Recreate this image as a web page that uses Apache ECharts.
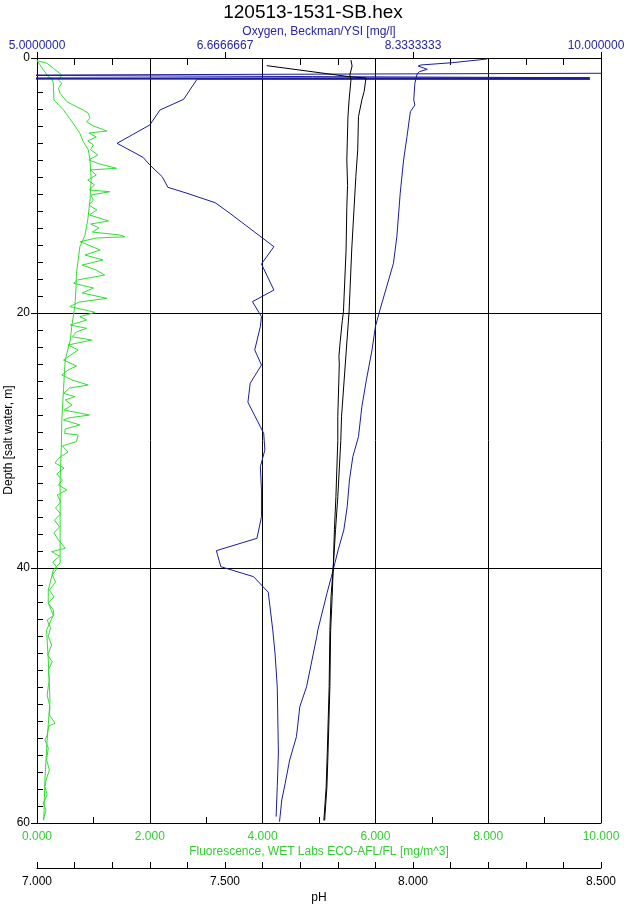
<!DOCTYPE html>
<html><head><meta charset="utf-8">
<script src="https://cdn.jsdelivr.net/npm/echarts@6/dist/echarts.min.js"></script>
<style>html,body{margin:0;padding:0;background:#fff}#c{width:626px;height:905px}</style>
</head><body><div id="c"></div>
<script>
const titleText = '120513-1531-SB.hex';
const depthName = 'Depth [salt water, m]';
const oxygenName = 'Oxygen, Beckman/YSI [mg/l]';
const depthTickLabels = ['0', '20', '40', '60'];
const fluorTickLabels = ['0.000', '2.000', '4.000', '6.000', '8.000', '10.000'];
const oxygenTickLabels = ['5.0000000', '6.6666667', '8.3333333', '10.000000'];
const phTickLabels = ['7.000', '7.500', '8.000', '8.500'];

// each point: [value, depth m]
const fluorDown = [[0.00,0.21],[0.18,0.42],[0.29,0.81],[0.44,1.33],[0.38,1.73],[0.44,1.98],[0.38,2.38],[0.41,2.77],[0.53,3.43],[0.64,3.69],[0.82,4.08],[0.91,4.34],[0.94,4.73],[0.88,5.0],[1.00,5.33],[1.24,5.73],[0.92,5.88],[1.05,6.2],[0.90,6.5],[1.00,6.82],[0.95,7.2],[1.08,7.6],[0.92,8.0],[1.10,8.3],[1.41,8.65],[0.95,8.78],[1.05,9.18],[0.90,9.57],[1.02,9.96],[0.93,10.35],[1.29,10.49],[0.95,10.75],[1.00,11.14],[0.92,11.53],[1.06,11.92],[0.93,12.31],[1.27,12.78],[0.95,13.02],[1.10,13.33],[0.98,13.65],[1.47,13.88],[1.56,14.02],[1.05,14.12],[0.76,14.41],[0.82,14.5],[1.12,15.06],[0.85,15.45],[1.17,15.84],[0.80,16.24],[1.05,16.63],[1.20,17.02],[0.72,17.41],[0.65,17.67],[1.00,18.04],[0.80,18.43],[1.24,18.85],[0.75,19.14],[0.58,19.5],[0.85,19.76],[1.03,19.95],[0.76,20.29],[0.88,20.55],[0.59,20.94],[0.88,21.2],[0.70,21.49],[0.62,21.86],[0.97,22.12],[0.55,22.51],[0.73,22.9],[0.60,23.29],[0.47,23.69],[0.70,24.16],[0.55,24.47],[0.44,24.86],[0.62,25.25],[0.91,25.65],[0.58,25.88],[0.47,26.3],[0.67,26.56],[0.50,26.82],[0.62,27.22],[0.48,27.61],[0.93,28.0],[0.55,28.24],[0.47,28.39],[0.76,28.78],[0.50,29.1],[0.49,29.44],[0.73,29.57],[0.70,30.09],[0.45,30.43],[0.55,30.9],[0.39,31.37],[0.32,31.76],[0.48,32.16],[0.35,32.63],[0.45,33.1],[0.38,33.49],[0.53,33.88],[0.36,34.27],[0.42,34.82],[0.33,35.29],[0.42,35.76],[0.31,36.24],[0.40,36.78],[0.30,37.25],[0.38,37.8],[0.50,38.45],[0.26,38.72],[0.40,39.06],[0.28,39.53],[0.36,40.0],[0.27,40.55],[0.33,41.1],[0.22,41.73],[0.30,42.27],[0.20,42.75],[0.29,43.29],[0.30,43.69],[0.18,44.08],[0.24,44.7],[0.20,45.39],[0.26,46.04],[0.19,46.82],[0.27,47.35],[0.20,48.0],[0.22,48.78],[0.20,49.31],[0.18,49.96],[0.23,50.88],[0.22,51.53],[0.32,52.18],[0.21,52.39],[0.18,53.1],[0.14,53.49],[0.20,54.12],[0.17,55.06],[0.22,55.84],[0.16,56.63],[0.14,57.15],[0.18,57.8],[0.11,58.45],[0.16,58.98],[0.11,59.76]];
const fluorUp = [[0.00,0.20],[0.20,1.47],[0.26,1.59],[0.29,1.98],[0.30,3.29],[0.47,4.08],[0.64,5.12],[0.76,5.9],[0.82,6.56],[0.91,7.2],[0.94,8.0],[0.96,9.57],[0.94,11.14],[0.90,12.7],[0.85,13.9],[0.76,14.8],[0.73,15.84],[0.70,16.9],[0.69,18.2],[0.67,19.5],[0.62,20.94],[0.59,22.12],[0.50,23.69],[0.47,26.0],[0.44,28.4],[0.43,30.75],[0.41,33.1],[0.41,36.2],[0.41,39.6],[0.29,40.16],[0.20,41.73],[0.20,42.75],[0.29,43.7],[0.17,44.86],[0.20,47.2],[0.23,50.4],[0.18,53.5],[0.14,56.6],[0.12,59.8]];
const oxygenA = [[11.0,1.17],[4.5,1.35],[4.5,1.50],[9.9,1.55],[4.5,1.58],[9.9,1.62],[4.5,1.64],[9.9,1.66],[6.42,1.65],[6.30,3.24],[6.09,4.08],[6.00,5.25],[5.71,6.69],[5.94,7.79],[6.00,8.39],[6.11,9.31],[6.16,10.14],[6.33,10.61],[6.58,11.35],[6.71,12.18],[7.10,14.8],[6.99,16.16],[7.10,18.2],[6.91,19.11],[6.99,20.29],[6.98,21.07],[6.93,22.9],[6.99,24.08],[6.89,25.51],[6.87,27.0],[7.01,29.44],[7.02,30.75],[6.98,32.05],[6.99,33.88],[6.99,35.98],[6.95,37.67],[6.59,38.64],[6.63,39.9],[6.92,40.68],[7.05,41.9],[7.09,44.86],[7.11,46.67],[7.13,49.31],[7.14,54.51],[7.13,57.15],[7.12,59.5]];
const oxygenB = [[8.99,0.08],[8.68,0.37],[8.40,0.55],[8.38,0.63],[8.46,0.89],[8.39,1.07],[8.37,1.25],[8.36,1.59],[8.35,1.98],[8.34,3.29],[8.35,3.69],[8.31,4.21],[8.28,6.17],[8.25,8.0],[8.22,10.61],[8.19,14.02],[8.16,16.1],[8.10,17.94],[8.04,19.76],[8.00,21.07],[7.97,22.9],[7.92,25.25],[7.88,27.35],[7.85,29.7],[7.80,31.27],[7.77,33.1],[7.75,35.19],[7.72,37.02],[7.67,38.59],[7.64,39.64],[7.61,40.68],[7.57,42.0],[7.49,44.86],[7.48,45.39],[7.39,49.31],[7.33,50.88],[7.30,53.23],[7.24,55.06],[7.20,56.89],[7.17,58.2],[7.15,59.9]];
const phDown = [[7.835,0.16],[7.838,0.63],[7.832,1.33],[7.835,1.73],[7.830,3.29],[7.827,4.63],[7.824,8.0],[7.826,10.0],[7.824,11.7],[7.822,15.06],[7.815,19.9],[7.812,20.6],[7.806,22.35],[7.803,23.4],[7.804,24.0],[7.800,28.1],[7.800,30.0],[7.795,34.4],[7.791,37.0],[7.788,39.9],[7.782,42.25],[7.779,44.9],[7.777,49.3],[7.772,54.5],[7.769,57.2],[7.763,59.8]];
const phUp = [[7.611,0.60],[7.832,1.47],[7.835,1.55],[7.875,1.57],[7.870,2.64],[7.864,3.29],[7.855,4.6],[7.853,7.2],[7.848,9.3],[7.843,11.9],[7.837,15.06],[7.830,19.9],[7.824,22.35],[7.810,28.1],[7.808,30.0],[7.800,34.4],[7.794,37.0],[7.788,39.9],[7.785,42.25],[7.781,44.9],[7.779,49.3],[7.774,54.5],[7.771,57.2],[7.765,59.8]];

const FONT = "'Liberation Sans', Arial, sans-serif";
const GREEN_LINE = '#33dd33';
const GREEN_TEXT = '#33cc33';
const BLUE_LINE = '#1c1c9c';
const BLUE_TEXT = '#2626a6';
const BLACK = '#000';

const chart = echarts.init(document.getElementById('c'), null, {renderer: 'canvas'});
function lineSeries(name, data, xi, color) {
  return {name, type: 'line', data, xAxisIndex: xi, yAxisIndex: 0, showSymbol: false, symbol: 'none',
    clip: true, lineStyle: {color, width: 1}, itemStyle: {color}, emphasis: {disabled: true}, silent: true};
}
const option = {
  animation: false,
  backgroundColor: '#fff',
  textStyle: {fontFamily: FONT},
  title: {text: titleText, left: 'center', top: 3, padding: 0,
    textStyle: {fontSize: 19, fontWeight: 'normal', color: BLACK, fontFamily: FONT}},
  graphic: [
    {type: 'text', x: 9, y: 440, rotation: Math.PI / 2, silent: true,
      style: {text: depthName, align: 'center', verticalAlign: 'middle', fill: BLACK, font: '12px ' + FONT}},
    {type: 'text', x: 319, y: 32, silent: true,
      style: {text: oxygenName, align: 'center', verticalAlign: 'middle', fill: BLUE_TEXT, font: '12px ' + FONT}}
  ],
  grid: {left: 37, right: 25, top: 58, bottom: 82, containLabel: false, outerBoundsMode: 'none'},
  xAxis: [
    { type: 'value', position: 'bottom', min: 0, max: 10, interval: 2,
      name: 'Fluorescence, WET Labs ECO-AFL/FL [mg/m^3]', nameLocation: 'middle', nameGap: 23,
      nameMoveOverlap: false,
      nameTextStyle: {color: GREEN_TEXT, fontSize: 12, fontFamily: FONT, verticalAlign: 'top'},
      axisLine: {show: true, onZero: false, lineStyle: {color: BLACK, width: 1}},
      axisTick: {show: true, inside: true, length: 6, lineStyle: {color: BLACK}},
      minorTick: {show: true, splitNumber: 2, length: 6, lineStyle: {color: BLACK}},
      axisLabel: {color: GREEN_TEXT, fontSize: 12, margin: 8, fontFamily: FONT,
        formatter: (v, i) => fluorTickLabels[i]},
      splitLine: {show: true, lineStyle: {color: BLACK, width: 1}} },
    { type: 'value', position: 'top', min: 5, max: 10, interval: 5 / 3,
      axisLine: {show: true, onZero: false, lineStyle: {color: BLACK}},
      axisTick: {show: true, inside: false, length: 6, lineStyle: {color: BLACK}},
      minorTick: {show: true, splitNumber: 5, length: -7, lineStyle: {color: BLACK}},
      axisLabel: {color: BLUE_TEXT, fontSize: 12, margin: 6, fontFamily: FONT,
        formatter: (v, i) => i === oxygenTickLabels.length - 1 ? '{r|' + oxygenTickLabels[i] + '}' : oxygenTickLabels[i],
        rich: {r: {color: BLUE_TEXT, fontSize: 12, fontFamily: FONT, padding: [0, 10, 0, 0]}}},
      splitLine: {show: false} },
    { type: 'value', position: 'bottom', offset: 45, min: 7, max: 8.5, interval: 0.1,
      name: 'pH', nameLocation: 'middle', nameGap: 24, nameMoveOverlap: false,
      nameTextStyle: {color: BLACK, fontSize: 12, fontFamily: FONT, verticalAlign: 'top'},
      axisLine: {show: true, onZero: false, lineStyle: {color: BLACK, width: 1}},
      axisTick: {show: true, inside: true, length: 6, lineStyle: {color: BLACK}},
      axisLabel: {color: BLACK, fontSize: 12, margin: 8, fontFamily: FONT,
        formatter: (v, i) => (i % 5 === 0 ? phTickLabels[i / 5] : '')},
      splitLine: {show: false} }
  ],
  yAxis: [
    { type: 'value', position: 'left', inverse: true, min: 0, max: 60, interval: 20,
      axisLine: {show: true, onZero: false, lineStyle: {color: BLACK}},
      axisTick: {show: true, inside: false, length: 6, lineStyle: {color: BLACK}},
      minorTick: {show: true, splitNumber: 15, length: -6, lineStyle: {color: BLACK}},
      axisLabel: {color: BLACK, fontSize: 12, margin: 7, fontFamily: FONT,
        formatter: (v, i) => depthTickLabels[i]},
      splitLine: {show: true, lineStyle: {color: BLACK}} }
  ],
  series: [
    lineSeries('Fluorescence up', fluorUp, 0, GREEN_LINE),
    lineSeries('Fluorescence down', fluorDown, 0, GREEN_LINE),
    lineSeries('Oxygen A', oxygenA, 1, BLUE_LINE),
    lineSeries('Oxygen B', oxygenB, 1, BLUE_LINE),
    lineSeries('pH up', phUp, 2, BLACK),
    lineSeries('pH down', phDown, 2, BLACK)
  ]
};
chart.setOption(option);
</script></body></html>
